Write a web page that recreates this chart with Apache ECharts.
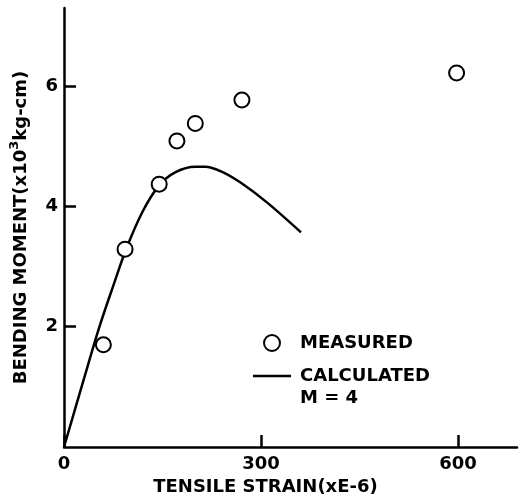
<!DOCTYPE html>
<html>
<head>
<meta charset="utf-8">
<script src="https://cdn.jsdelivr.net/npm/echarts@6/dist/echarts.min.js"></script>
<style>
  html, body { margin: 0; padding: 0; background: #fff; }
  #chart { width: 522px; height: 501px; }
</style>
</head>
<body>
<div id="chart"></div>
<script>
// measured points: strain (x1e-6), moment (x10^3 kg-cm)
const measuredStrain = [60, 93, 145, 172, 200, 271, 598]
const measuredMoment = [1.70, 3.29, 4.37, 5.09, 5.38, 5.77, 6.22]

// calculated curve, M = 4
const calcStrain = [0, 30, 54, 75, 95, 120, 145, 170, 200, 215, 240, 270, 310, 361]
const calcMoment = [0, 1.12, 2.0, 2.68, 3.3, 3.92, 4.35, 4.57, 4.66, 4.66, 4.58, 4.39, 4.06, 3.57]

const xTicks = [0, 300, 600]
const yTicks = [2, 4, 6]

const font = 'DejaVu Sans'
const ink = '#000'

const chart = echarts.init(document.getElementById('chart'), null, { renderer: 'canvas' })

chart.setOption({
  animation: false,
  backgroundColor: '#fff',
  grid: { left: 61, right: 5, top: 8, bottom: 54 },
  xAxis: {
    type: 'value',
    min: 0,
    max: 690,
    name: 'TENSILE STRAIN(xE-6)',
    nameLocation: 'middle',
    nameGap: 22,
    nameTextStyle: { fontFamily: font, fontWeight: 'bold', fontSize: 18, color: ink, padding: [0, 50, 0, 0] },
    axisLine: { lineStyle: { color: ink, width: 2.5 } },
    axisTick: { inside: true, length: 12, customValues: xTicks, lineStyle: { color: ink, width: 2.5 } },
    axisLabel: { fontFamily: font, fontWeight: 'bold', fontSize: 18, color: ink, margin: 8, customValues: xTicks },
    splitLine: { show: false }
  },
  yAxis: {
    type: 'value',
    min: 0,
    max: 7.3,
    name: '{a|BENDING MOMENT(x10}{s|3}{a|kg-cm)}',
    nameLocation: 'middle',
    nameGap: 29,
    nameTextStyle: {
      rich: {
        a: { fontFamily: font, fontWeight: 'bold', fontSize: 18, color: ink },
        s: { fontFamily: font, fontWeight: 'bold', fontSize: 13, color: ink, padding: [0, 0, 14, 0] }
      }
    },
    axisLine: { lineStyle: { color: ink, width: 2.5 } },
    axisTick: { inside: true, length: 12, customValues: yTicks, lineStyle: { color: ink, width: 2.5 } },
    axisLabel: { fontFamily: font, fontWeight: 'bold', fontSize: 18, color: ink, margin: 6, customValues: yTicks },
    splitLine: { show: false }
  },
  legend: {
    orient: 'vertical',
    left: 248,
    top: 329,
    itemWidth: 38,
    itemHeight: 16,
    itemGap: 15,
    textStyle: { fontFamily: font, fontWeight: 'bold', fontSize: 18, color: ink, padding: [0, 0, 0, 4] },
    data: [
      { name: 'MEASURED', icon: 'emptyCircle', itemStyle: { color: ink, borderColor: ink, borderWidth: 2.5, opacity: 1 } },
      { name: 'CALCULATED', icon: 'path://M0,7 L38,7 L38,9.5 L0,9.5 Z', itemStyle: { color: ink, borderWidth: 0 } }
    ]
  },
  graphic: [{
    type: 'text',
    left: 300,
    top: 389,
    style: { text: 'M = 4', font: 'bold 18px "DejaVu Sans"', fill: ink }
  }],
  series: [
    {
      name: 'CALCULATED',
      type: 'line',
      smooth: 0.3,
      symbol: 'none',
      lineStyle: { color: ink, width: 2.5 },
      itemStyle: { color: ink },
      data: calcStrain.map((x, i) => [x, calcMoment[i]]),
      z: 2
    },
    {
      name: 'MEASURED',
      type: 'scatter',
      symbol: 'emptyCircle',
      symbolSize: 15,
      itemStyle: { color: ink, borderColor: ink, borderWidth: 2.8, opacity: 1 },
      data: measuredStrain.map((x, i) => [x, measuredMoment[i]]),
      z: 3
    }
  ]
})
</script>
</body>
</html>
